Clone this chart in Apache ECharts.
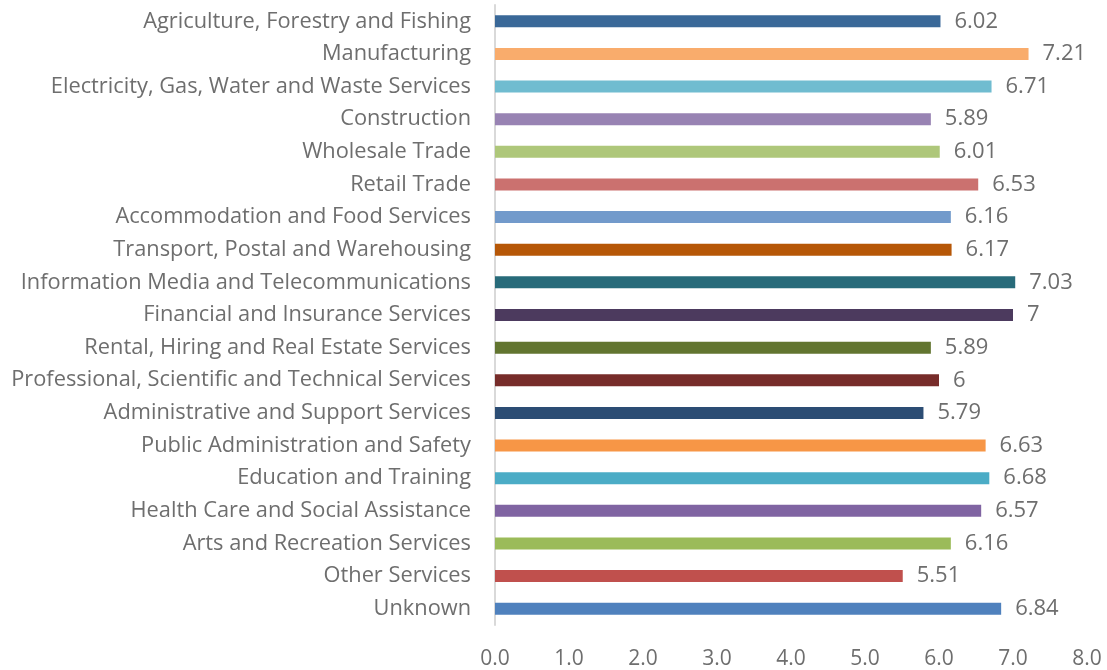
<!DOCTYPE html>
<html>
<head>
<meta charset="utf-8">
<script src="https://cdn.jsdelivr.net/npm/echarts@6/dist/echarts.min.js"></script>
<style>
  html, body { margin: 0; padding: 0; background: #fff; }
  #chart { width: 1107px; height: 670px; }
</style>
</head>
<body>
<div id="chart"></div>
<script>
// industries, top to bottom
const industries = [
  'Agriculture, Forestry and Fishing',
  'Manufacturing',
  'Electricity, Gas, Water and Waste Services',
  'Construction',
  'Wholesale Trade',
  'Retail Trade',
  'Accommodation and Food Services',
  'Transport, Postal and Warehousing',
  'Information Media and Telecommunications',
  'Financial and Insurance Services',
  'Rental, Hiring and Real Estate Services',
  'Professional, Scientific and Technical Services',
  'Administrative and Support Services',
  'Public Administration and Safety',
  'Education and Training',
  'Health Care and Social Assistance',
  'Arts and Recreation Services',
  'Other Services',
  'Unknown'
];
const scores = [6.02, 7.21, 6.71, 5.89, 6.01, 6.53, 6.16, 6.17, 7.03, 7,
  5.89, 6, 5.79, 6.63, 6.68, 6.57, 6.16, 5.51, 6.84];
const barColors = [
  '#3A6898', '#F9AC6C', '#70BCD0', '#9883B3', '#AEC77A', '#CB716F',
  '#729ACB', '#B65707', '#286B7A', '#4C3A5E', '#627530', '#772C2A',
  '#2C4D74', '#F79646', '#4BACC6', '#8064A2', '#9BBB59', '#C0504D', '#4F81BD'
];

const myChart = echarts.init(document.getElementById('chart'));
const txt = '#6E6E6E';
myChart.setOption({
  animation: false,
  grid: { left: 495, right: 20, top: 5, bottom: 45, containLabel: false },
  xAxis: {
    type: 'value',
    min: 0,
    max: 8,
    interval: 1,
    splitLine: { show: false },
    axisLine: { show: false },
    axisTick: { show: false },
    axisLabel: {
      color: txt,
      fontSize: 21,
      fontFamily: 'Open Sans',
      margin: 24,
      formatter: function (v) { return v.toFixed(1); }
    }
  },
  yAxis: {
    type: 'category',
    inverse: true,
    data: industries,
    axisLine: { show: true, lineStyle: { color: '#D9D9D9', width: 2 } },
    axisTick: { show: false },
    axisLabel: {
      color: txt,
      fontSize: 21.8,
      fontFamily: 'Open Sans',
      margin: 24
    }
  },
  series: [
    {
      type: 'bar',
      barWidth: 12,
      data: scores.map(function (v, i) {
        return { value: v, itemStyle: { color: barColors[i] } };
      }),
      label: {
        show: true,
        position: 'right',
        distance: 14,
        color: txt,
        fontSize: 22,
        fontFamily: 'Open Sans'
      }
    }
  ]
});
</script>
</body>
</html>
